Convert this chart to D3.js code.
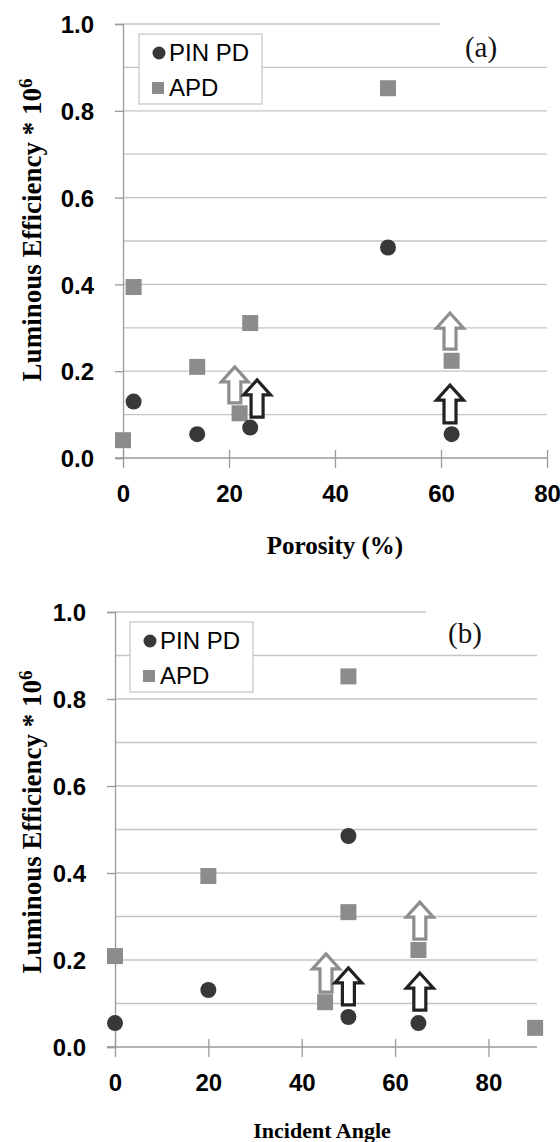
<!DOCTYPE html>
<html>
<head>
<meta charset="utf-8">
<script src="https://d3js.org/d3.v7.min.js"></script>
<style>
  body { margin: 0; background: #fff; }
  .tick-label { font-family: "Liberation Sans", Arial, sans-serif; font-weight: bold; font-size: 24px; fill: #000; }
  .axis-title { font-family: "Liberation Serif", "Times New Roman", serif; font-weight: bold; fill: #000; }
  .legend-text { font-family: "Liberation Sans", Arial, sans-serif; font-size: 24px; fill: #000; }
  .panel-label { font-family: "Liberation Serif", "Times New Roman", serif; font-size: 29px; fill: #111; }
</style>
</head>
<body>
<div class="chart"></div>
<script>
// Panel (a): efficiency vs porosity
var pinPorosity = [2, 14, 24, 50, 62];
var pinPorosityEff = [0.13, 0.055, 0.07, 0.485, 0.055];
var apdPorosity = [0, 2, 14, 22, 24, 50, 62];
var apdPorosityEff = [0.041, 0.394, 0.21, 0.103, 0.311, 0.852, 0.224];

// Panel (b): efficiency vs incident angle
var pinAngle = [0, 20, 50, 50, 65];
var pinAngleEff = [0.055, 0.131, 0.485, 0.069, 0.055];
var apdAngle = [0, 20, 45, 50, 50, 65, 90];
var apdAngleEff = [0.209, 0.393, 0.103, 0.852, 0.31, 0.223, 0.044];

// Open arrows (x, base value, tip value, series)
var arrowsPorosity = [
    { x: 21.1, from: 0.127, to: 0.21, series: "APD" },
    { x: 25.3, from: 0.094, to: 0.18, series: "PIN" },
    { x: 61.7, from: 0.251, to: 0.334, series: "APD" },
    { x: 61.7, from: 0.081, to: 0.168, series: "PIN" }
];
var arrowsAngle = [
    { x: 45.2, from: 0.126, to: 0.214, series: "APD" },
    { x: 50, from: 0.097, to: 0.182, series: "PIN" },
    { x: 65.3, from: 0.248, to: 0.333, series: "APD" },
    { x: 65.3, from: 0.085, to: 0.17, series: "PIN" }
];

var xTicks = [0, 20, 40, 60, 80];
var yTicks = [0, 0.2, 0.4, 0.6, 0.8, 1.0];
var yGrid = d3.range(1, 11).map(function(d) { return d / 10; });
var legendLabels = ["PIN PD", "APD"];

var pinColor = "#383838";
var apdColor = "#8c8c8c";

var svg = d3.select(".chart")
    .append("svg")
    .attr("width", 560)
    .attr("height", 1142);

function drawPanel(p) {
    var x = d3.scaleLinear().domain([0, p.xMax]).range([p.left, p.right]);
    var y = d3.scaleLinear().domain([0, 1]).range([p.bottom, p.top]);
    var g = svg.append("g");

    // horizontal gridlines
    g.selectAll(".grid")
        .data(yGrid)
        .enter()
        .append("line")
        .attr("x1", p.left)
        .attr("x2", p.right)
        .attr("y1", function(d) { return y(d); })
        .attr("y2", function(d) { return y(d); })
        .attr("stroke", "#c4c4c4")
        .attr("stroke-width", 1.3);

    // white box behind the panel label
    g.append("rect")
        .attr("x", p.labelBox[0])
        .attr("y", p.labelBox[1])
        .attr("width", p.right - p.labelBox[0])
        .attr("height", p.labelBox[2])
        .attr("fill", "#fff");

    // y axis
    var leftAxis = d3.axisLeft(y).tickValues(yTicks).tickSize(8).tickFormat(d3.format(".1f")).tickPadding(21);
    var ya = g.append("g").attr("transform", "translate(" + p.left + ",0)").call(leftAxis);
    ya.select(".domain").attr("stroke", "#9a9a9a").attr("stroke-width", 1.3);
    ya.selectAll(".tick line").attr("stroke", "#9a9a9a").attr("stroke-width", 1.3);
    ya.selectAll("text").attr("class", "tick-label").attr("dy", "0.36em");

    // x axis
    var bottomAxis = d3.axisBottom(x).tickValues(xTicks).tickSize(10).tickPadding(17).tickSizeOuter(0);
    var xa = g.append("g").attr("transform", "translate(0," + p.bottom + ")").call(bottomAxis);
    xa.select(".domain").attr("stroke", "#9a9a9a").attr("stroke-width", 1.3)
        .attr("d", "M" + (p.left - 8) + ",0H" + p.right);
    xa.selectAll(".tick line").attr("stroke", "#9a9a9a").attr("stroke-width", 1.3).attr("y1", -8);
    xa.selectAll("text").attr("class", "tick-label");

    // APD squares
    g.selectAll(".apd")
        .data(p.apdX)
        .enter()
        .append("rect")
        .attr("x", function(d) { return x(d) - 8; })
        .attr("y", function(d, i) { return y(p.apdY[i]) - 8; })
        .attr("width", 16)
        .attr("height", 16)
        .attr("fill", apdColor);

    // PIN PD circles
    g.selectAll(".pin")
        .data(p.pinX)
        .enter()
        .append("circle")
        .attr("cx", function(d) { return x(d); })
        .attr("cy", function(d, i) { return y(p.pinY[i]); })
        .attr("r", 8)
        .attr("fill", pinColor);

    // open block arrows
    g.selectAll(".arrow")
        .data(p.arrows)
        .enter()
        .append("path")
        .attr("d", function(d) {
            var cx = x(d.x), yb = y(d.from), yt = y(d.to);
            var sw = 6, hw = 13.5, hh = 15;
            return "M" + (cx - sw) + "," + yb +
                "V" + (yt + hh) + "H" + (cx - hw) +
                "L" + cx + "," + yt +
                "L" + (cx + hw) + "," + (yt + hh) +
                "H" + (cx + sw) + "V" + yb + "Z";
        })
        .attr("fill", "#fff")
        .attr("stroke", function(d) { return d.series === "APD" ? "#8e8e8e" : "#222"; })
        .attr("stroke-width", 3.2)
        .attr("stroke-linejoin", "miter");

    // legend
    var lg = g.append("g").attr("transform", "translate(" + p.legend[0] + "," + p.legend[1] + ")");
    lg.append("rect")
        .attr("width", 123)
        .attr("height", 70)
        .attr("fill", "#fff")
        .attr("stroke", "#c8c8c8")
        .attr("stroke-width", 1.3);
    lg.append("circle").attr("cx", 20).attr("cy", 19).attr("r", 6.5).attr("fill", pinColor);
    lg.append("rect").attr("x", 13).attr("y", 48).attr("width", 12).attr("height", 12).attr("fill", apdColor);
    lg.selectAll(".legend-text")
        .data(legendLabels)
        .enter()
        .append("text")
        .attr("class", "legend-text")
        .attr("x", 30)
        .attr("y", function(d, i) { return 27 + i * 35; })
        .text(function(d) { return d; });

    // panel label
    g.append("text")
        .attr("class", "panel-label")
        .attr("x", p.labelPos[0])
        .attr("y", p.labelPos[1])
        .attr("text-anchor", "middle")
        .text(p.label);

    // y-axis title
    var yt = g.append("text")
        .attr("class", "axis-title")
        .attr("transform", "translate(" + 41 + "," + p.yTitleY + ") rotate(-90)")
        .attr("text-anchor", "middle")
        .style("font-size", "27px");
    yt.append("tspan").text("Luminous Efficiency * 10");
    yt.append("tspan").attr("dy", "-0.45em").style("font-size", "19px").text("6");

    // x-axis title
    g.append("text")
        .attr("class", "axis-title")
        .attr("x", p.xTitle[0])
        .attr("y", p.xTitle[1])
        .attr("text-anchor", "middle")
        .style("font-size", p.xTitleSize)
        .text(p.xLabel);
}

drawPanel({
    left: 123, right: 547, top: 24, bottom: 458, xMax: 80,
    pinX: pinPorosity, pinY: pinPorosityEff, apdX: apdPorosity, apdY: apdPorosityEff,
    arrows: arrowsPorosity,
    legend: [139, 34], label: "(a)", labelPos: [481, 57], labelBox: [440, 20, 44],
    yTitleY: 230, xTitle: [335, 554], xLabel: "Porosity (%)", xTitleSize: "25px"
});

drawPanel({
    left: 115, right: 537, top: 612, bottom: 1047, xMax: 90.4,
    pinX: pinAngle, pinY: pinAngleEff, apdX: apdAngle, apdY: apdAngleEff,
    arrows: arrowsAngle,
    legend: [130, 622], label: "(b)", labelPos: [465, 643], labelBox: [426, 608, 44],
    yTitleY: 822, xTitle: [322, 1138], xLabel: "Incident Angle", xTitleSize: "22px"
});
</script>
</body>
</html>
